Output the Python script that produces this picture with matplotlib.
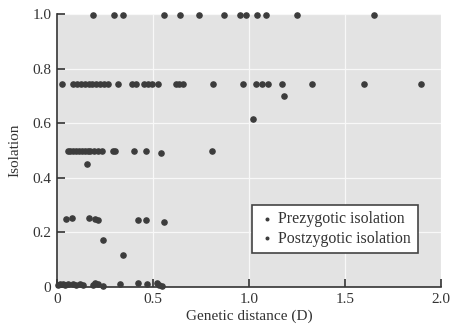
import matplotlib
matplotlib.use("Agg")
import matplotlib.pyplot as plt

# values
pre_x = [0.19, 0.30, 0.345, 0.56, 0.64, 0.74, 0.87, 0.955, 0.985, 1.04, 1.09, 1.25, 1.65,
         0.06, 0.07, 0.085, 0.10, 0.115, 0.13, 0.145, 0.16, 0.175, 0.195, 0.215, 0.235,
         0.29, 0.305, 0.40, 0.465, 0.54, 0.81, 0.155,
         0.005, 0.015, 0.03, 0.045, 0.06, 0.085, 0.10, 0.12, 0.135, 0.19, 0.20, 0.215,
         0.24, 0.33, 0.42, 0.47, 0.52, 0.53, 0.545]
pre_y = [0.995] * 13 + [0.497] * 12 + [0.497, 0.50, 0.50, 0.497, 0.49, 0.497, 0.452] + \
        [0.008, 0.012, 0.01, 0.006, 0.012, 0.01, 0.008, 0.012, 0.006, 0.008, 0.014, 0.012,
         0.004, 0.012, 0.014, 0.01, 0.014, 0.006, 0.004]

post_x = [0.025, 0.085, 0.105, 0.125, 0.145, 0.165, 0.185, 0.205, 0.225, 0.245, 0.265,
          0.32, 0.39, 0.41, 0.455, 0.475, 0.495, 0.525, 0.62, 0.635, 0.655, 0.815,
          0.97, 1.035, 1.07, 1.10, 1.17, 1.33, 1.60, 1.895,
          1.18, 1.02,
          0.05, 0.08, 0.17, 0.20, 0.215, 0.425, 0.465, 0.56, 0.24, 0.345]
post_y = [0.745] * 30 + [0.70, 0.615] + \
         [0.25, 0.252, 0.252, 0.25, 0.245, 0.247, 0.247, 0.24, 0.173, 0.118]

fig = plt.figure(figsize=(4.51, 3.35), dpi=100)
ax = fig.add_axes([0.126, 0.143, 0.852, 0.815])
ax.set_facecolor("#e3e3e3")

ax.scatter(pre_x, pre_y, s=14, color="#3c3c3c", label="Prezygotic isolation",
           clip_on=False, zorder=3)
ax.scatter(post_x, post_y, s=14, color="#3c3c3c", label="Postzygotic isolation",
           clip_on=False, zorder=3)

ax.set_xlim(0, 2.0)
ax.set_ylim(0, 1.0)
ax.set_xticks([0, 0.5, 1.0, 1.5, 2.0])
ax.set_xticklabels(["0", "0.5", "1.0", "1.5", "2.0"])
ax.set_yticks([0, 0.2, 0.4, 0.6, 0.8, 1.0])
ax.set_yticklabels(["0", "0.2", "0.4", "0.6", "0.8", "1.0"])

ax.grid(True, color="#f8f8f8", linewidth=0.9)
ax.set_axisbelow(True)
for s in ["top", "right"]:
    ax.spines[s].set_visible(False)
for s in ["left", "bottom"]:
    ax.spines[s].set_color("#333333")
    ax.spines[s].set_linewidth(1.2)
ax.tick_params(direction="in", length=6, width=1.2, color="#333333",
               labelsize=11, labelcolor="#333333", pad=4)
for lab in ax.get_xticklabels() + ax.get_yticklabels():
    lab.set_fontfamily("Liberation Serif")

ax.set_xlabel("Genetic distance (D)", fontsize=11, family="Liberation Serif",
              color="#333333", labelpad=3)
ax.set_ylabel("Isolation", fontsize=11, family="Liberation Serif",
              color="#333333", labelpad=8)

leg = ax.legend(loc="lower right", bbox_to_anchor=(0.96, 0.095), frameon=True,
                fancybox=False, markerscale=0.5, handletextpad=0.25,
                handlelength=1.0, borderpad=0.42, labelspacing=0.2,
                prop={"family": "Liberation Serif", "size": 11.4})
leg.get_frame().set_edgecolor("#444444")
leg.get_frame().set_linewidth(1.2)
leg.get_frame().set_facecolor("white")
leg.get_frame().set_alpha(1.0)
for t in leg.get_texts():
    t.set_color("#333333")

fig.savefig("out.png", dpi=100)
